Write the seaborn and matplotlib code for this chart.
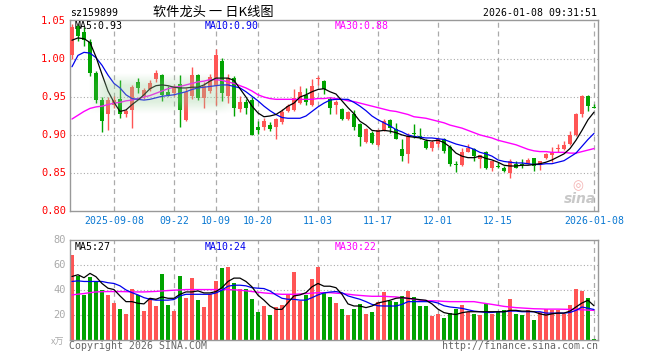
import numpy as np
import matplotlib
matplotlib.use("Agg")
import matplotlib.pyplot as plt
import seaborn as sns

# -----------------------------
# Data
# -----------------------------
opens = [1.006, 1.044, 1.036, 1.023, 0.982, 0.946, 0.927, 0.940, 0.947, 0.927,
         0.933, 0.970, 0.951, 0.961, 0.974, 0.979, 0.957, 0.955, 0.967, 0.920,
         0.951, 0.979, 0.949, 0.958, 0.965, 0.998, 0.951, 0.975, 0.934, 0.944,
         0.946, 0.911, 0.910, 0.913, 0.910, 0.917, 0.931, 0.933, 0.942, 0.953,
         0.939, 0.974, 0.971, 0.947, 0.939, 0.934, 0.921, 0.928, 0.914, 0.891,
         0.903, 0.887, 0.907, 0.920, 0.908, 0.881, 0.875, 0.903, 0.899, 0.892,
         0.883, 0.888, 0.895, 0.884, 0.861, 0.860, 0.878, 0.881, 0.868, 0.878,
         0.856, 0.859, 0.856, 0.850, 0.861, 0.861, 0.862, 0.869, 0.860, 0.869,
         0.874, 0.881, 0.882, 0.888, 0.900, 0.928, 0.951, 0.937]
highs = [1.046, 1.047, 1.042, 1.026, 0.985, 0.950, 0.950, 0.952, 0.972, 0.934,
         0.966, 0.975, 0.962, 0.972, 0.986, 0.981, 0.964, 0.966, 0.979, 0.962,
         0.990, 0.981, 0.970, 0.980, 1.014, 1.002, 0.980, 0.978, 0.952, 0.947,
         0.950, 0.918, 0.922, 0.917, 0.922, 0.934, 0.941, 0.961, 0.965, 0.962,
         0.974, 0.978, 0.973, 0.950, 0.946, 0.935, 0.931, 0.933, 0.916, 0.909,
         0.905, 0.908, 0.921, 0.921, 0.916, 0.895, 0.903, 0.914, 0.909, 0.895,
         0.893, 0.896, 0.896, 0.887, 0.865, 0.883, 0.888, 0.883, 0.874, 0.879,
         0.866, 0.864, 0.859, 0.868, 0.865, 0.868, 0.869, 0.870, 0.866, 0.876,
         0.884, 0.888, 0.892, 0.905, 0.929, 0.953, 0.953, 0.941]
lows = [1.000, 1.024, 1.018, 0.978, 0.942, 0.904, 0.906, 0.935, 0.922, 0.924,
        0.909, 0.955, 0.948, 0.958, 0.970, 0.945, 0.951, 0.952, 0.911, 0.918,
        0.948, 0.946, 0.936, 0.955, 0.940, 0.945, 0.942, 0.925, 0.930, 0.928,
        0.900, 0.901, 0.907, 0.905, 0.894, 0.915, 0.930, 0.932, 0.941, 0.940,
        0.938, 0.966, 0.954, 0.927, 0.928, 0.920, 0.920, 0.907, 0.886, 0.890,
        0.888, 0.885, 0.905, 0.902, 0.895, 0.866, 0.863, 0.896, 0.895, 0.882,
        0.879, 0.884, 0.876, 0.859, 0.851, 0.859, 0.877, 0.866, 0.857, 0.855,
        0.853, 0.857, 0.851, 0.843, 0.856, 0.857, 0.861, 0.853, 0.854, 0.868,
        0.864, 0.878, 0.880, 0.887, 0.899, 0.924, 0.931, 0.935]
closes = [1.043, 1.030, 1.025, 0.982, 0.946, 0.918, 0.946, 0.946, 0.928, 0.931,
          0.963, 0.962, 0.959, 0.969, 0.982, 0.953, 0.953, 0.962, 0.933, 0.957,
          0.979, 0.949, 0.964, 0.977, 1.006, 0.955, 0.975, 0.935, 0.944, 0.936,
          0.900, 0.907, 0.919, 0.908, 0.921, 0.930, 0.938, 0.949, 0.957, 0.943,
          0.965, 0.975, 0.960, 0.935, 0.944, 0.921, 0.930, 0.911, 0.897, 0.908,
          0.889, 0.907, 0.918, 0.909, 0.895, 0.872, 0.898, 0.901, 0.896, 0.883,
          0.891, 0.894, 0.879, 0.861, 0.860, 0.877, 0.883, 0.872, 0.873, 0.857,
          0.865, 0.858, 0.852, 0.865, 0.857, 0.860, 0.867, 0.859, 0.865, 0.875,
          0.878, 0.882, 0.887, 0.900, 0.928, 0.951, 0.938, 0.936]

ma5 = [1.025, 1.028, 1.027, 1.022, 1.003, 0.980, 0.958, 0.943, 0.931, 0.933,
       0.940, 0.946, 0.953, 0.961, 0.965, 0.966, 0.965, 0.963, 0.962, 0.962,
       0.963, 0.963, 0.966, 0.971, 0.975, 0.975, 0.975, 0.972, 0.961, 0.950,
       0.938, 0.929, 0.924, 0.925, 0.927, 0.932, 0.938, 0.942, 0.950, 0.953,
       0.957, 0.960, 0.961, 0.957, 0.954, 0.945, 0.936, 0.928, 0.918, 0.913,
       0.906, 0.905, 0.906, 0.905, 0.903, 0.900, 0.898, 0.897, 0.896, 0.893,
       0.892, 0.893, 0.890, 0.884, 0.876, 0.872, 0.870, 0.870, 0.872, 0.869,
       0.867, 0.864, 0.860, 0.859, 0.859, 0.860, 0.860, 0.861, 0.862, 0.864,
       0.867, 0.871, 0.875, 0.882, 0.893, 0.906, 0.920, 0.930]
ma10 = [0.990, 1.005, 1.009, 1.008, 1.002, 0.992, 0.979, 0.968, 0.962, 0.953,
        0.948, 0.947, 0.946, 0.947, 0.949, 0.951, 0.952, 0.953, 0.955, 0.957,
        0.960, 0.962, 0.963, 0.964, 0.965, 0.966, 0.966, 0.964, 0.962, 0.957,
        0.951, 0.945, 0.938, 0.932, 0.927, 0.923, 0.922, 0.922, 0.922, 0.925,
        0.931, 0.937, 0.942, 0.946, 0.947, 0.947, 0.947, 0.943, 0.938, 0.932,
        0.925, 0.920, 0.916, 0.912, 0.907, 0.904, 0.900, 0.898, 0.897, 0.896,
        0.896, 0.895, 0.894, 0.891, 0.888, 0.886, 0.884, 0.881, 0.877, 0.875,
        0.872, 0.867, 0.865, 0.864, 0.863, 0.863, 0.862, 0.861, 0.861, 0.862,
        0.862, 0.864, 0.866, 0.871, 0.876, 0.885, 0.894, 0.902]
ma30 = [0.921, 0.926, 0.931, 0.935, 0.937, 0.938, 0.940, 0.942, 0.943, 0.945,
        0.946, 0.948, 0.950, 0.952, 0.955, 0.958, 0.961, 0.963, 0.964, 0.966,
        0.968, 0.970, 0.971, 0.973, 0.973, 0.972, 0.970, 0.968, 0.965, 0.962,
        0.958, 0.953, 0.950, 0.948, 0.947, 0.947, 0.947, 0.947, 0.947, 0.947,
        0.947, 0.948, 0.948, 0.949, 0.948, 0.947, 0.945, 0.944, 0.942, 0.940,
        0.938, 0.936, 0.934, 0.932, 0.931, 0.929, 0.927, 0.924, 0.923, 0.922,
        0.920, 0.918, 0.916, 0.913, 0.911, 0.909, 0.906, 0.903, 0.900, 0.898,
        0.896, 0.893, 0.891, 0.889, 0.887, 0.884, 0.881, 0.879, 0.878, 0.878,
        0.877, 0.877, 0.877, 0.876, 0.876, 0.878, 0.880, 0.882]

volumes = [68, 51, 36, 50.5, 46.7, 40, 36.4, 30, 25, 21,
           41, 36, 23.5, 34, 27, 52.6, 28.3, 23.5, 51, 33.7,
           49.4, 32.4, 26.7, 37, 47, 57.5, 58.5, 46, 41.3, 41.3,
           33, 22.7, 27.5, 19.7, 26.5, 28.3, 36, 55, 31, 36,
           48.6, 58.5, 38.6, 34.3, 29.4, 24.6, 20, 24.6, 28.6, 20.5,
           22.7, 30.2, 38.3, 31, 30.5, 35, 39, 34.3, 27, 27,
           19, 20.5, 17.3, 22, 24.6, 27.8, 22.7, 20.5, 20, 28.6,
           20.5, 22.7, 23.8, 32.7, 20.5, 20, 23.8, 15.7, 22.7, 24.6,
           23.8, 23.8, 20.5, 27.8, 40.8, 39, 33.5, 1]
vma5 = [51, 52.4, 50, 53.5, 50.8, 45.4, 41.6, 40.5, 35.4, 30.8,
        30.8, 29.5, 29, 33.5, 32.7, 34.6, 33.5, 33.5, 36.7, 38.6,
        38.6, 39.4, 37.8, 37.8, 38.9, 42, 47, 49.7, 49.7, 47,
        42.7, 36, 32, 27.3, 24.6, 24.6, 30, 35.4, 36.2, 38,
        42.7, 45.4, 43.2, 43.2, 42, 36.7, 29, 27.3, 27.3, 26,
        27.3, 29.7, 30.8, 31.9, 33.5, 34, 33.5, 33, 32.4, 31.9,
        29, 24.8, 22, 21, 20.5, 21.9, 22.7, 22.7, 22.7, 22.7,
        22.7, 22.7, 22.7, 23.8, 23.8, 23.2, 23.2, 22.7, 21, 20,
        21, 21.6, 21.6, 23.2, 26.5, 29.7, 31.9, 27.5]
vma10 = [47, 47.5, 47, 47, 47, 47, 46, 45.4, 43.5, 40.2,
         38, 36.2, 34, 32.7, 32, 32, 32, 32.5, 35.4, 36.7,
         36.7, 36.7, 36.7, 36.7, 37.8, 40, 43.2, 44, 44, 43.5,
         42, 41.6, 41.3, 39.4, 36.2, 33.5, 32.7, 32.7, 32, 32,
         34, 36.2, 37.8, 38.5, 38.9, 38, 35.4, 34, 32.7, 30.8,
         28.6, 27.5, 27.3, 27.3, 27.3, 28.6, 30.8, 30.8, 30.8, 30.8,
         30.8, 29.7, 27.5, 26.5, 26, 25.4, 24.3, 23.2, 22.7, 22.1,
         22.1, 22.7, 22.7, 23.2, 23.2, 22.7, 22.7, 22.7, 22.7, 21.6,
         21.6, 21.6, 21.6, 22.1, 23.8, 26.5, 25.5, 24.5]
vma30 = [36.2, 36.8, 37.3, 38, 38.6, 38.8, 38.9, 38.9, 38.9, 38.8,
         38.6, 38.6, 38.6, 38.8, 39, 39.4, 39.7, 40, 40.2, 40.5,
         40.5, 40.5, 40.5, 40.5, 40.5, 40.5, 40.5, 40.3, 40, 39.5,
         38.9, 38.4, 37.8, 37.4, 37, 36.7, 36.7, 36.7, 37, 37.3,
         37.6, 38, 38, 38, 37.6, 37.3, 36.8, 36.2, 35.8, 35.4,
         35.1, 35.1, 35.1, 34.8, 34.6, 34, 33.5, 32.7, 31.9, 31.6,
         31.5, 31.3, 31, 30.8, 30.8, 30.8, 30.8, 30.8, 30, 29.3,
         28.6, 27.8, 27, 26.5, 26, 25.7, 25.4, 25.1, 25, 24.8,
         24.8, 24.8, 24.7, 24.6, 24.4, 24.3, 24, 23.8]

date_labels = ["2025-09-08", "09-22", "10-09", "10-20", "11-03",
               "11-17", "12-01", "12-15", "2026-01-08"]
date_idx = [7, 17, 24, 31, 41, 51, 61, 71, 87]
price_ticks = [0.80, 0.85, 0.90, 0.95, 1.00, 1.05]
vol_ticks = [20, 40, 60, 80]

# -----------------------------
# Style
# -----------------------------
sns.set_theme(style="white")
plt.rcParams["font.family"] = ["DejaVu Sans Mono", "Noto Sans CJK SC"]

RED = "#ff5555"
GREEN = "#00a300"
GRIDC = "#aaaaaa"
BORDER = "#999999"
MONO = "DejaVu Sans Mono"
FS = 7.1

W, H = 660, 360
fig = plt.figure(figsize=(W / 100, H / 100), dpi=100)
fig.patch.set_facecolor("white")


def px(x, y):
    return x / W, 1 - y / H


ax = fig.add_axes([70 / W, 1 - 211 / H, 528 / W, 191 / H])
axv = fig.add_axes([70 / W, 1 - 340 / H, 528 / W, 100 / H])

idx = np.arange(len(closes))
o = np.array(opens)
c = np.array(closes)
colors = [RED if cc >= oo else GREEN for oo, cc in zip(o, c)]

for a in (ax, axv):
    a.set_xlim(-0.33, len(closes) - 0.33)
    for s in a.spines.values():
        s.set_color(BORDER)
        s.set_linewidth(1.0)
    a.set_xticks([])
    a.tick_params(length=0)
    for d in date_idx:
        a.axvline(d, color=GRIDC, lw=0.9, ls=(0, (4, 3)), zorder=0)

# -----------------------------
# Price panel
# -----------------------------
ax.set_ylim(0.7996, 1.0517)
for t in price_ticks[1:-1]:
    ax.axhline(t, color=GRIDC, lw=0.8, ls=(0, (1, 2)), zorder=0)

ax.vlines(idx, lows, highs, colors=colors, lw=1.0, zorder=2)
body = np.maximum(np.abs(c - o), 0.0012)
ax.bar(idx, body, bottom=np.minimum(o, c), width=0.78, color=colors,
       linewidth=0, zorder=3)

# faint ghost band seen on the reference
gx = np.linspace(0, 1, 200)
gy = np.linspace(0, 1, 60)
fx = np.clip(np.minimum(gx, 1 - gx) / 0.12, 0, 1)
fy = np.clip(np.minimum(gy, 1 - gy) / 0.3, 0, 1)
alpha = 0.34 * np.outer(fy, fx)
ghost = np.zeros((60, 200, 4))
ghost[..., 0] = 0.62
ghost[..., 1] = 0.82
ghost[..., 2] = 0.62
ghost[..., 3] = alpha
ax.imshow(ghost, extent=(2.6, 27.6, 0.928, 0.982), aspect="auto",
          zorder=5, interpolation="bilinear")

sns.lineplot(x=idx, y=ma30, color="#ff00ff", lw=1.0, ax=ax, zorder=4)
sns.lineplot(x=idx, y=ma10, color="#0000ee", lw=0.9, ax=ax, zorder=4)
sns.lineplot(x=idx, y=ma5, color="black", lw=0.9, ax=ax, zorder=4)
ax.set_xlim(-0.33, len(closes) - 0.33)
ax.set_ylim(0.7996, 1.0517)
ax.set_yticks([])
ax.set_ylabel("")

# -----------------------------
# Volume panel
# -----------------------------
axv.set_ylim(0, 80.3)
for t in vol_ticks[:-1]:
    axv.axhline(t, color=GRIDC, lw=0.8, ls=(0, (1, 2)), zorder=0)
axv.bar(idx, volumes, width=0.78, color=colors, linewidth=0, zorder=2)
sns.lineplot(x=idx, y=vma30, color="#ff00ff", lw=1.0, ax=axv, zorder=4)
sns.lineplot(x=idx, y=vma10, color="#0000ee", lw=0.9, ax=axv, zorder=4)
sns.lineplot(x=idx, y=vma5, color="black", lw=0.9, ax=axv, zorder=4)
axv.set_xlim(-0.33, len(closes) - 0.33)
axv.set_ylim(0, 80.3)
axv.set_yticks([])
axv.set_ylabel("")

# -----------------------------
# Text
# -----------------------------
def ytext(a, val, txt, color):
    y = a.transData.transform((0, val))[1]
    fig.text(66 / W, y / fig.bbox.height, txt, ha="right", va="center",
             color=color, fontsize=FS + 0.4, family=MONO)

fig.canvas.draw()
for t in price_ticks:
    ytext(ax, t, f"{t:.2f}", "#ff0000")
for t in vol_ticks:
    ytext(axv, t, f"{t}", "#aaaaaa")

for d, lab in zip(date_idx, date_labels):
    xd = ax.transData.transform((d, 0))[0] / fig.bbox.width
    fig.text(xd, px(0, 221)[1], lab, ha="center", va="center",
             color="#0a78d2", fontsize=FS, family=MONO)

fig.text(*px(70, 13), "sz159899", ha="left", va="center", fontsize=FS,
         family=MONO, color="black")
fig.text(*px(213, 12.5), "软件龙头 一 日K线图", ha="center", va="center",
         fontsize=9.5, family=["Noto Sans CJK SC", "DejaVu Sans"], color="black")
fig.text(*px(597, 13), "2026-01-08 09:31:51", ha="right", va="center",
         fontsize=FS, family=MONO, color="black")

fig.text(*px(75, 26), "MA5:0.93", ha="left", va="center", fontsize=FS,
         family=MONO, color="black", zorder=10)
fig.text(*px(205, 26), "MA10:0.90", ha="left", va="center", fontsize=FS,
         family=MONO, color="#0000ee")
fig.text(*px(335, 26), "MA30:0.88", ha="left", va="center", fontsize=FS,
         family=MONO, color="#ff00ff")

fig.text(*px(75, 247), "MA5:27", ha="left", va="center", fontsize=FS,
         family=MONO, color="black")
fig.text(*px(205, 247), "MA10:24", ha="left", va="center", fontsize=FS,
         family=MONO, color="#0000ee")
fig.text(*px(335, 247), "MA30:22", ha="left", va="center", fontsize=FS,
         family=MONO, color="#ff00ff")

fig.text(*px(64, 342), "x万", ha="right", va="center", fontsize=6.5,
         family=["Noto Sans CJK SC", "DejaVu Sans"], color="#aaaaaa")
fig.text(*px(69, 346), "Copyright 2026 SINA.COM", ha="left", va="center",
         fontsize=FS, family=MONO, color="#666666")
fig.text(*px(598, 346), "http://finance.sina.com.cn", ha="right", va="center",
         fontsize=FS, family=MONO, color="#666666")

# sina watermark
fig.text(*px(578, 186), "◎", ha="center", va="center", fontsize=9,
         color="#f4b0b0", family="DejaVu Sans")
fig.text(*px(580, 199), "sina", ha="center", va="center", fontsize=10,
         style="italic", weight="bold", color="#c8c8c8", family="DejaVu Sans")

fig.savefig("out.png", dpi=100, facecolor="white")
